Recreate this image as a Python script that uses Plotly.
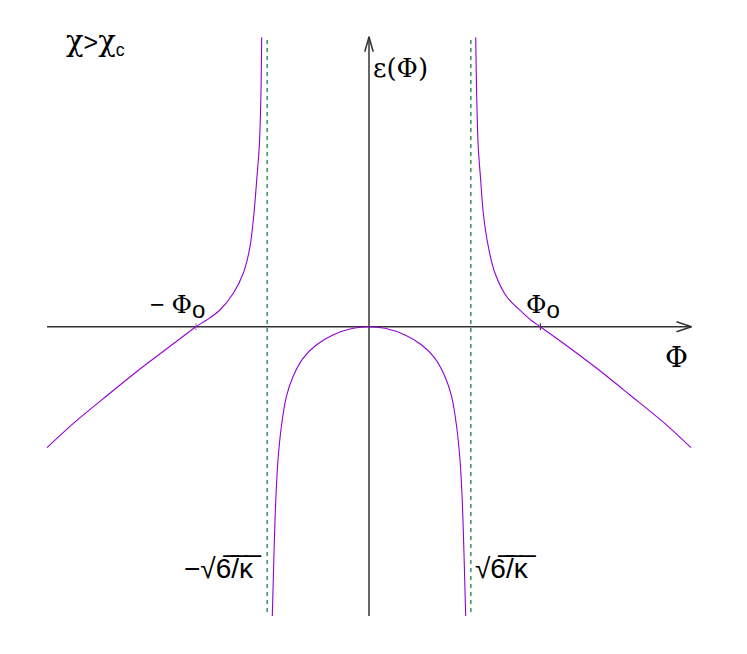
import plotly.graph_objects as go

# curve readings (Phi in units of sqrt(6/kappa), epsilon in arbitrary units)
phi_outer_left = [-1.054, -1.062, -1.078, -1.103, -1.130, -1.169, -1.235, -1.333, -1.464,
                  -1.594, -1.700, -1.915, -2.240, -2.566, -2.890, -3.163]
eps_outer_left = [2.894, 2.30, 1.80, 1.467, 1.134, 0.80, 0.534, 0.334, 0.167,
                  0.067, 0.0, -0.166, -0.416, -0.683, -0.955, -1.21]

phi_inner = [-0.950, -0.933, -0.917, -0.894, -0.861, -0.812, -0.747, -0.648, -0.518, -0.354, -0.157,
             0.0, 0.157, 0.354, 0.518, 0.648, 0.747, 0.812, 0.861, 0.894, 0.917, 0.933, 0.950]
eps_inner = [-2.893, -2.266, -1.766, -1.333, -1.0, -0.70, -0.50, -0.316, -0.183, -0.083, -0.016,
             0.0, -0.016, -0.083, -0.183, -0.316, -0.50, -0.70, -1.0, -1.333, -1.766, -2.266, -2.893]

phi_outer_right = [1.048, 1.058, 1.073, 1.097, 1.123, 1.172, 1.238, 1.353, 1.516,
                   1.595, 1.683, 1.909, 2.237, 2.564, 2.891, 3.163]
eps_outer_right = [2.894, 2.30, 1.80, 1.467, 1.134, 0.80, 0.534, 0.30, 0.134,
                   0.062, 0.0, -0.166, -0.416, -0.683, -0.955, -1.21]

poles = [-1.0, 1.0]          # +-sqrt(6/kappa)
pole_eps = [2.867, -2.893]
phi0 = [-1.700, 1.683]       # +-Phi_0

# axis extents
x_axis = [-3.163, 3.168]
y_axis = [-2.893, 2.90]

W, H = 747, 654
PAD = 8                      # page body margin
SX, SY = 101.8, 100.0        # px per unit
X0, Y0 = 369.0 - PAD, 326.7 - PAD   # origin in figure px

AXIS_COL = "#333333"
CURVE_COL = "#9400D3"
DASH_COL = "#2E8B57"

fig = go.Figure()

# axes
fig.add_trace(go.Scatter(x=x_axis, y=[0, 0], mode="lines",
                         line=dict(color=AXIS_COL, width=1.5), hoverinfo="skip"))
fig.add_trace(go.Scatter(x=[0, 0], y=y_axis, mode="lines",
                         line=dict(color=AXIS_COL, width=1.5), hoverinfo="skip"))

# open arrow heads
ah_len, ah_half = 15 / SX, 5 / SY
fig.add_trace(go.Scatter(x=[x_axis[1] - ah_len, x_axis[1], x_axis[1] - ah_len],
                         y=[ah_half, 0, -ah_half], mode="lines",
                         line=dict(color=AXIS_COL, width=1.5), hoverinfo="skip"))
av_len, av_half = 15 / SY, 4.2 / SX
fig.add_trace(go.Scatter(x=[-av_half, 0, av_half],
                         y=[y_axis[1] - av_len, y_axis[1], y_axis[1] - av_len], mode="lines",
                         line=dict(color=AXIS_COL, width=1.5), hoverinfo="skip"))

# ticks at +-Phi_0
tick_h = 3.5 / SY
for p, c in zip(phi0, ["#888888", "#222222"]):
    fig.add_trace(go.Scatter(x=[p, p], y=[tick_h, -tick_h], mode="lines",
                             line=dict(color=c, width=1), hoverinfo="skip"))

# asymptotes
for p in poles:
    fig.add_trace(go.Scatter(x=[p, p], y=pole_eps, mode="lines",
                             line=dict(color=DASH_COL, width=1.7, dash="4px,4px"),
                             opacity=0.85, hoverinfo="skip"))

# epsilon(Phi)
for xs, ys in [(phi_outer_left, eps_outer_left), (phi_inner, eps_inner),
               (phi_outer_right, eps_outer_right)]:
    fig.add_trace(go.Scatter(x=xs, y=ys, mode="lines",
                             line=dict(color=CURVE_COL, width=1.1, shape="spline", smoothing=0.9),
                             hoverinfo="skip"))

SANS = "Liberation Sans, Arial, sans-serif"
SER = "DejaVu Serif, serif"


def g(s, size=None):
    sz = f";font-size:{size}px" if size else ""
    return f'<span style="font-family:{SER}{sz}">{s}</span>'


def lab(text, px, py, xanchor, size):
    fig.add_annotation(text=text, x=(px - PAD) / W, y=1 - (py - PAD) / H,
                       xref="paper", yref="paper",
                       xanchor=xanchor, yanchor="middle", showarrow=False,
                       font=dict(family=SANS, size=size, color="black"))


sub_o = '<sub><span style="font-size:24px">o</span></sub>'
lab(g("χ", 29) + ">" + g("χ", 29) + "<sub>c</sub>", 64, 42, "left", 25)
lab(g("ε(Φ)"), 371, 68, "left", 26)
lab("− " + g("Φ") + sub_o, 207, 306, "right", 25)
lab(g("Φ") + sub_o, 524, 306, "left", 25)
lab(g("Φ"), 676.5, 357, "center", 28)
lab("−√6̅/̅κ̅", 264, 568, "right", 28)
lab("√6̅/̅κ̅", 473, 568, "left", 28)

fig.update_layout(
    width=W, height=H, autosize=False,
    margin=dict(l=0, r=0, t=0, b=0),
    paper_bgcolor="white", plot_bgcolor="white",
    showlegend=False,
    xaxis=dict(range=[-X0 / SX, (W - X0) / SX], visible=False, fixedrange=True),
    yaxis=dict(range=[(Y0 - H) / SY, Y0 / SY], visible=False, fixedrange=True),
)

fig.write_html("out.html")
